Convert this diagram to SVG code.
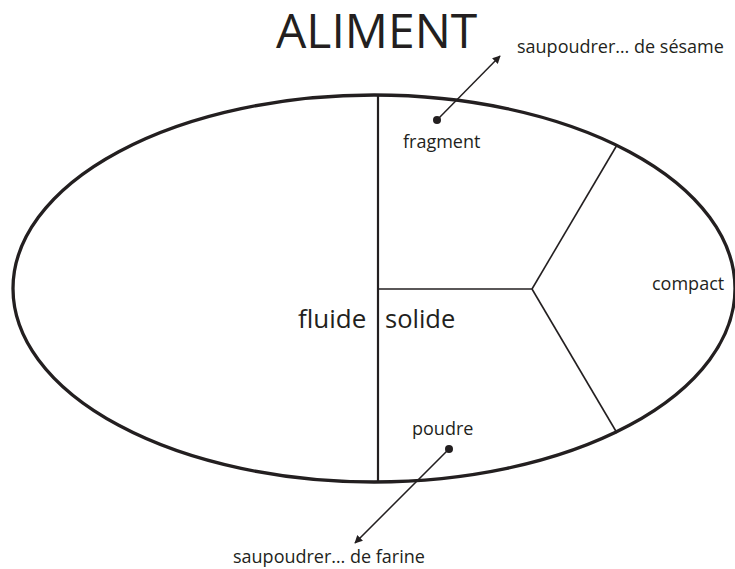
<svg xmlns="http://www.w3.org/2000/svg" width="735" height="569" viewBox="0 0 735 569">
<style>
text{font-family:"Open Sans","Noto Sans","Liberation Sans",sans-serif;fill:#231f20}
.s{font-size:18px}
.ln{stroke:#231f20;fill:none}
</style>
<defs>
<marker id="ah" viewBox="0 0 10 10" refX="9" refY="5" markerWidth="8" markerHeight="8" markerUnits="userSpaceOnUse" orient="auto">
<path d="M0,0 L10,5 L0,10 z" fill="#231f20"/>
</marker>
</defs>
<rect width="735" height="569" fill="#fff"/>
<g id="title"><text x="276" y="48" font-size="48">ALIMENT</text></g>
<g id="aliment-ellipse">
<ellipse cx="374" cy="288.5" rx="361" ry="193.5" class="ln" stroke-width="3.3"/>
</g>
<g id="dividers">
<line x1="378" y1="96" x2="378" y2="482" class="ln" stroke-width="2.2"/>
<polyline points="378,289 532,289" class="ln" stroke-width="1.6"/>
<line x1="532" y1="289" x2="617" y2="145" class="ln" stroke-width="1.6"/>
<line x1="532" y1="289" x2="617" y2="433" class="ln" stroke-width="1.6"/>
</g>
<g id="fluide"><text x="298" y="328" font-size="26">fluide</text></g>
<g id="solide"><text x="385" y="328" font-size="25.5">solide</text></g>
<g id="fragment"><text class="s" x="403" y="148">fragment</text><circle cx="437" cy="120" r="4" fill="#231f20"/></g>
<g id="compact"><text class="s" x="652" y="290">compact</text></g>
<g id="poudre"><text class="s" x="412" y="435">poudre</text><circle cx="449" cy="449" r="4" fill="#231f20"/></g>
<g id="sesame"><text class="s" x="517" y="53">saupoudrer… de sésame</text></g>
<g id="farine"><text class="s" x="233" y="563">saupoudrer… de farine</text></g>
<g id="connectors">
<line x1="437" y1="120" x2="500" y2="56" class="ln" stroke-width="1.5" marker-end="url(#ah)"/>
<line x1="449" y1="449" x2="355" y2="543" class="ln" stroke-width="1.5" marker-end="url(#ah)"/>
</g>
</svg>
